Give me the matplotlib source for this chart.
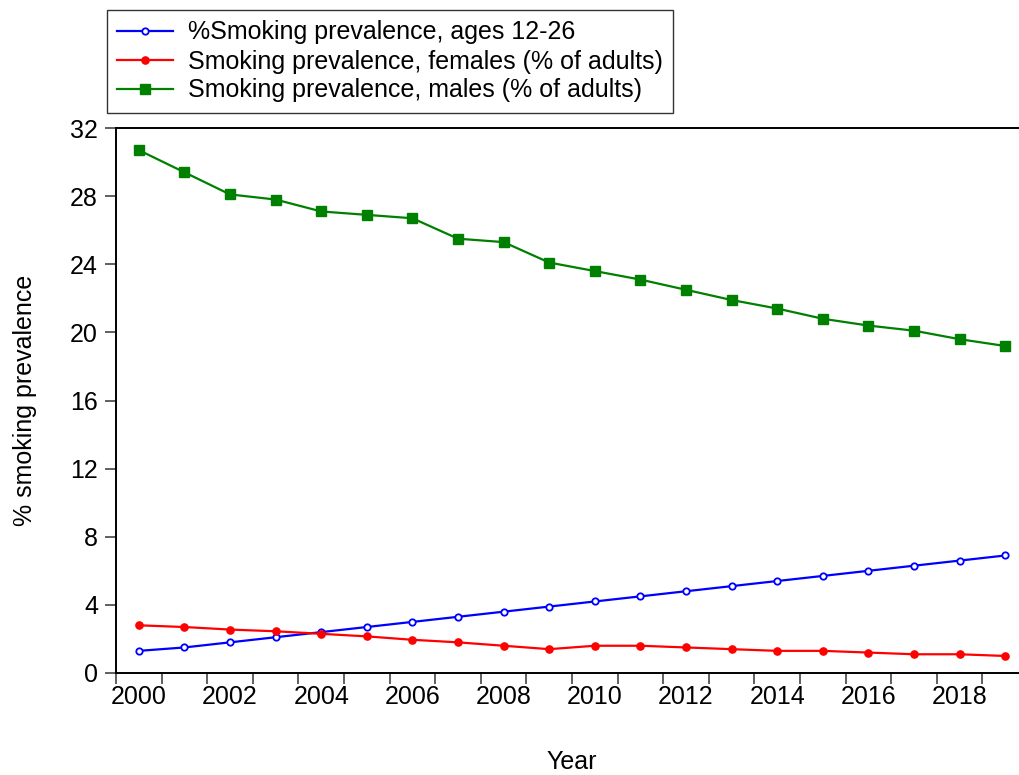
import matplotlib
matplotlib.use("Agg")
import matplotlib.pyplot as plt
from matplotlib.ticker import FixedLocator, NullFormatter

plt.rcParams['font.family'] = ['Liberation Sans', 'DejaVu Sans']

years = list(range(2000, 2020))
youth_12_26 = [1.3, 1.5, 1.8, 2.1, 2.4, 2.7, 3.0, 3.3, 3.6, 3.9,
               4.2, 4.5, 4.8, 5.1, 5.4, 5.7, 6.0, 6.3, 6.6, 6.9]
females = [2.8, 2.7, 2.55, 2.45, 2.3, 2.15, 1.95, 1.8, 1.6, 1.4,
           1.6, 1.6, 1.5, 1.4, 1.3, 1.3, 1.2, 1.1, 1.1, 1.0]
males = [30.7, 29.4, 28.1, 27.8, 27.1, 26.9, 26.7, 25.5, 25.3, 24.1,
         23.6, 23.1, 22.5, 21.9, 21.4, 20.8, 20.4, 20.1, 19.6, 19.2]

labels = ["%Smoking prevalence, ages 12-26",
          "Smoking prevalence, females (% of adults)",
          "Smoking prevalence, males (% of adults)"]
y_ticks = [0, 4, 8, 12, 16, 20, 24, 28, 32]
x_label_years = list(range(2000, 2020, 2))

W, H = 1020, 775
fig = plt.figure(figsize=(W / 100, H / 100), dpi=100)
# plot frame spans 116..1028 px horizontally (right side runs off the canvas)
ax = fig.add_axes([116 / W, (H - 673) / H, 912 / W, 545 / H])

fs = 18
ax.plot(years, youth_12_26, color='#0000ff', lw=1.6, marker='o', ms=4.6,
        mfc='white', mec='#0000ff', mew=1.3, label=labels[0])
ax.plot(years, females, color='#ff0000', lw=1.6, marker='o', ms=5.2,
        mfc='#ff0000', mec='#ff0000', label=labels[1])
ax.plot(years, males, color='#008000', lw=1.6, marker='s', ms=6.6,
        mfc='#008000', mec='#008000', label=labels[2])

ax.set_xlim(1999.5, 2019.5)
ax.set_ylim(0, 32)

ax.xaxis.set_major_locator(FixedLocator(x_label_years))
ax.xaxis.set_minor_locator(FixedLocator([y + 0.5 for y in range(1999, 2020)]))
ax.xaxis.set_minor_formatter(NullFormatter())
ax.set_yticks(y_ticks)
ax.tick_params(axis='x', which='major', length=0, pad=9, labelsize=fs)
ax.tick_params(axis='x', which='minor', length=8, width=1.2, color='#444444')
ax.tick_params(axis='y', which='major', length=8, width=1.2, color='#444444',
               pad=5, labelsize=fs)
ax.spines['right'].set_visible(False)
for s in ('left', 'top', 'bottom'):
    ax.spines[s].set_linewidth(1.4)

ax.set_xlabel("Year", fontsize=fs, labelpad=29)
ax.set_ylabel("% smoking prevalence", fontsize=fs, labelpad=24)

leg = fig.legend(loc='upper left', bbox_to_anchor=(107 / W, 1 - 10 / H),
                 borderaxespad=0, fontsize=fs, frameon=True, fancybox=False,
                 edgecolor='black', handlelength=2.2, handletextpad=0.6,
                 labelspacing=0.2, borderpad=0.42)
leg.get_frame().set_linewidth(1.0)

fig.savefig("out.png", dpi=100)
